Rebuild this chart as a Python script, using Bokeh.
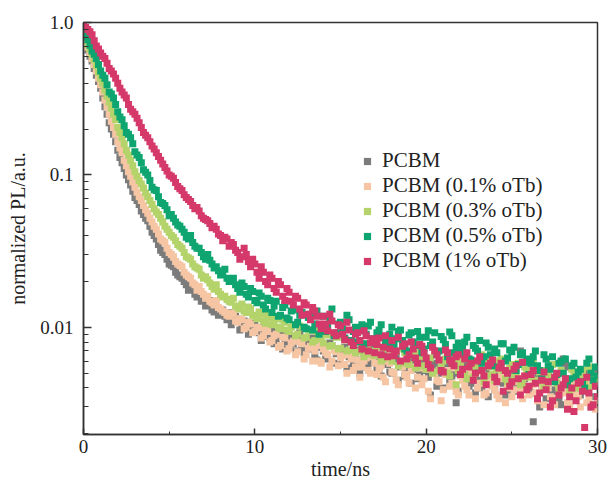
from bokeh.plotting import figure
from bokeh.models import FixedTicker
from bokeh.embed import file_html
from bokeh.resources import INLINE

# ---------------- data ----------------
# samples on the quarter-ns grid
time_ns = [
    0.0, 0.25, 0.5, 0.75, 1.0, 1.25, 1.5, 1.75, 2.0, 2.25, 2.5, 2.75,
    3.0, 3.25, 3.5, 3.75, 4.0, 4.25, 4.5, 4.75, 5.0, 5.25, 5.5, 5.75,
    6.0, 6.25, 6.5, 6.75, 7.0, 7.25, 7.5, 7.75, 8.0, 8.25, 8.5, 8.75,
    9.0, 9.25, 9.5, 9.75, 10.0, 10.25, 10.5, 10.75, 11.0, 11.25, 11.5, 11.75,
    12.0, 12.25, 12.5, 12.75, 13.0, 13.25, 13.5, 13.75, 14.0, 14.25, 14.5, 14.75,
    15.0, 15.25, 15.5, 15.75, 16.0, 16.25, 16.5, 16.75, 17.0, 17.25, 17.5, 17.75,
    18.0, 18.25, 18.5, 18.75, 19.0, 19.25, 19.5, 19.75, 20.0, 20.25, 20.5, 20.75,
    21.0, 21.25, 21.5, 21.75, 22.0, 22.25, 22.5, 22.75, 23.0, 23.25, 23.5, 23.75,
    24.0, 24.25, 24.5, 24.75, 25.0, 25.25, 25.5, 25.75, 26.0, 26.25, 26.5, 26.75,
    27.0, 27.25, 27.5, 27.75, 28.0, 28.25, 28.5, 28.75, 29.0, 29.25, 29.5, 29.75,
    30.0,
]
# samples in between (x.125, x.375, ...)
time_ns_mid = [
    0.125, 0.375, 0.625, 0.875, 1.125, 1.375, 1.625, 1.875,
    2.125, 2.375, 2.625, 2.875, 3.125, 3.375, 3.625, 3.875,
    4.125, 4.375, 4.625, 4.875, 5.125, 5.375, 5.625, 5.875,
    6.125, 6.375, 6.625, 6.875, 7.125, 7.375, 7.625, 7.875,
    8.125, 8.375, 8.625, 8.875, 9.125, 9.375, 9.625, 9.875,
    10.125, 10.375, 10.625, 10.875, 11.125, 11.375, 11.625, 11.875,
    12.125, 12.375, 12.625, 12.875, 13.125, 13.375, 13.625, 13.875,
    14.125, 14.375, 14.625, 14.875, 15.125, 15.375, 15.625, 15.875,
    16.125, 16.375, 16.625, 16.875, 17.125, 17.375, 17.625, 17.875,
    18.125, 18.375, 18.625, 18.875, 19.125, 19.375, 19.625, 19.875,
    20.125, 20.375, 20.625, 20.875, 21.125, 21.375, 21.625, 21.875,
    22.125, 22.375, 22.625, 22.875, 23.125, 23.375, 23.625, 23.875,
    24.125, 24.375, 24.625, 24.875, 25.125, 25.375, 25.625, 25.875,
    26.125, 26.375, 26.625, 26.875, 27.125, 27.375, 27.625, 27.875,
    28.125, 28.375, 28.625, 28.875, 29.125, 29.375, 29.625, 29.875,
]

pl_pcbm = [
    0.78, 0.66, 0.56, 0.45, 0.37, 0.28, 0.22, 0.185,
    0.145, 0.12, 0.10, 0.086, 0.071, 0.064, 0.055, 0.050,
    0.042, 0.038, 0.032, 0.030, 0.026, 0.025, 0.022, 0.021,
    0.019, 0.0185, 0.0165, 0.0170, 0.0150, 0.0142, 0.0130, 0.0136,
    0.0122, 0.0118, 0.0125, 0.0110, 0.0113, 0.0102, 0.0108, 0.0098,
    0.0104, 0.0092, 0.0100, 0.0087, 0.0096, 0.0084, 0.0093, 0.0080,
    0.0090, 0.0078, 0.0086, 0.0074, 0.0083, 0.0072, 0.0066, 0.0080,
    0.0070, 0.0062, 0.0076, 0.0067, 0.0060, 0.0074, 0.0064, 0.0057,
    0.0071, 0.0061, 0.0055, 0.0068, 0.0059, 0.0052, 0.0066, 0.0057,
    0.0050, 0.0064, 0.0055, 0.0048, 0.0062, 0.0053, 0.0046, 0.0060,
    0.0052, 0.0036, 0.0058, 0.0050, 0.0040, 0.0056, 0.0048, 0.0032,
    0.0054, 0.0046, 0.0041, 0.0052, 0.0045, 0.0040, 0.0051, 0.0044,
    0.0039, 0.0050, 0.0043, 0.0038, 0.0049, 0.0042, 0.0070, 0.0046,
    0.0040, 0.0024, 0.0048, 0.0041, 0.0034, 0.0046, 0.0039, 0.0033,
    0.0062, 0.0055, 0.0038, 0.0044, 0.0036, 0.0050, 0.0041, 0.0035,
    0.0043,
]
pl_pcbm_mid = [
    0.72, 0.60, 0.50, 0.41, 0.32, 0.25, 0.20, 0.165,
    0.13, 0.11, 0.093, 0.078, 0.068, 0.058, 0.052, 0.046,
    0.040, 0.035, 0.031, 0.028, 0.0255, 0.023, 0.0215, 0.020,
    0.0175, 0.0180, 0.0158, 0.0148, 0.0138, 0.0150, 0.0126, 0.0120,
    0.0130, 0.0112, 0.0104, 0.0118, 0.0096, 0.0110, 0.0090, 0.0106,
    0.0095, 0.0082, 0.0098, 0.0085, 0.0078, 0.0092, 0.0072, 0.0088,
    0.0082, 0.0070, 0.0092, 0.0068, 0.0078, 0.0085, 0.0061, 0.0074,
    0.0065, 0.0079, 0.0058, 0.0072, 0.0068, 0.0054, 0.0070, 0.0061,
    0.0050, 0.0066, 0.0058, 0.0071, 0.0054, 0.0048, 0.0062, 0.0051,
    0.0060, 0.0045, 0.0058, 0.0052, 0.0043, 0.0057, 0.0049, 0.0064,
    0.0047, 0.0055, 0.0041, 0.0053, 0.0061, 0.0044, 0.0050, 0.0038,
    0.0049, 0.0056, 0.0043, 0.0037, 0.0054, 0.0047, 0.0035, 0.0049,
    0.0044, 0.0057, 0.0036, 0.0047, 0.0052, 0.0038, 0.0045, 0.0058,
    0.0037, 0.0050, 0.0030, 0.0044, 0.0052, 0.0038, 0.0047, 0.0031,
    0.0058, 0.0041, 0.0035, 0.0049, 0.0039, 0.0046, 0.0030, 0.0053,
]

pl_otb_01 = [
    0.80, 0.69, 0.58, 0.48, 0.39, 0.31, 0.25, 0.205,
    0.165, 0.14, 0.115, 0.098, 0.083, 0.072, 0.063, 0.056,
    0.049, 0.044, 0.038, 0.036, 0.031, 0.029, 0.026, 0.025,
    0.022, 0.021, 0.019, 0.0185, 0.0165, 0.016, 0.0145, 0.0150,
    0.0132, 0.0125, 0.0118, 0.0122, 0.0108, 0.0112, 0.0100, 0.0105,
    0.0094, 0.0099, 0.0088, 0.0094, 0.0082, 0.0090, 0.0076, 0.0085,
    0.0072, 0.0081, 0.0069, 0.0078, 0.0066, 0.0075, 0.0070, 0.0060,
    0.0072, 0.0066, 0.0060, 0.0069, 0.0063, 0.0057, 0.0066, 0.0052,
    0.0061, 0.0055, 0.0063, 0.0050, 0.0058, 0.0053, 0.0047, 0.0060,
    0.0051, 0.0045, 0.0057, 0.0049, 0.0043, 0.0055, 0.0047, 0.0042,
    0.0053, 0.0034, 0.0050, 0.0044, 0.0039, 0.0052, 0.0043, 0.0038,
    0.0048, 0.0041, 0.0036, 0.0047, 0.0040, 0.0051, 0.0037, 0.0045,
    0.0039, 0.0034, 0.0046, 0.0040, 0.0035, 0.0044, 0.0038, 0.0048,
    0.0036, 0.0042, 0.0033, 0.0040, 0.0046, 0.0035, 0.0031, 0.0041,
    0.0037, 0.0032, 0.0043, 0.0036, 0.0030, 0.0039, 0.0034, 0.0042,
    0.0033,
]
pl_otb_01_mid = [
    0.75, 0.63, 0.53, 0.43, 0.35, 0.28, 0.225, 0.185,
    0.15, 0.125, 0.105, 0.090, 0.077, 0.068, 0.059, 0.052,
    0.046, 0.041, 0.037, 0.033, 0.030, 0.027, 0.0255, 0.023,
    0.0215, 0.0195, 0.0175, 0.0172, 0.0155, 0.0148, 0.0140, 0.0135,
    0.0128, 0.0120, 0.0124, 0.0110, 0.0114, 0.0098, 0.0108, 0.0092,
    0.0100, 0.0085, 0.0096, 0.0080, 0.0088, 0.0074, 0.0086, 0.0070,
    0.0079, 0.0066, 0.0080, 0.0062, 0.0073, 0.0060, 0.0076, 0.0058,
    0.0068, 0.0055, 0.0071, 0.0056, 0.0065, 0.0050, 0.0062, 0.0055,
    0.0047, 0.0060, 0.0052, 0.0064, 0.0049, 0.0056, 0.0044, 0.0058,
    0.0050, 0.0042, 0.0055, 0.0047, 0.0052, 0.0040, 0.0054, 0.0046,
    0.0038, 0.0051, 0.0045, 0.0033, 0.0049, 0.0041, 0.0054, 0.0036,
    0.0045, 0.0039, 0.0050, 0.0034, 0.0043, 0.0036, 0.0048, 0.0041,
    0.0036, 0.0049, 0.0032, 0.0043, 0.0039, 0.0046, 0.0034, 0.0041,
    0.0048, 0.0037, 0.0044, 0.0031, 0.0040, 0.0034, 0.0045, 0.0038,
    0.0041, 0.0031, 0.0046, 0.0035, 0.0040, 0.0032, 0.0044, 0.0029,
]

pl_otb_03 = [
    0.83, 0.72, 0.62, 0.52, 0.43, 0.36, 0.30, 0.25,
    0.205, 0.175, 0.145, 0.125, 0.105, 0.092, 0.082, 0.072,
    0.064, 0.057, 0.052, 0.046, 0.042, 0.039, 0.035, 0.033,
    0.029, 0.028, 0.025, 0.024, 0.021, 0.0205, 0.0185, 0.0190,
    0.0165, 0.0160, 0.0148, 0.0155, 0.0135, 0.0142, 0.0125, 0.0132,
    0.0118, 0.0126, 0.0110, 0.0120, 0.0104, 0.0114, 0.0098, 0.0108,
    0.0094, 0.0104, 0.0090, 0.0100, 0.0086, 0.0095, 0.0082, 0.0092,
    0.0079, 0.0089, 0.0076, 0.0086, 0.0073, 0.0083, 0.0071, 0.0080,
    0.0069, 0.0078, 0.0067, 0.0076, 0.0065, 0.0074, 0.0062, 0.0072,
    0.0060, 0.0070, 0.0058, 0.0068, 0.0057, 0.0066, 0.0055, 0.0064,
    0.0053, 0.0063, 0.0070, 0.0052, 0.0060, 0.0050, 0.0064, 0.0042,
    0.0058, 0.0049, 0.0062, 0.0047, 0.0056, 0.0066, 0.0048, 0.0055,
    0.0045, 0.0060, 0.0052, 0.0044, 0.0057, 0.0050, 0.0042, 0.0055,
    0.0047, 0.0058, 0.0044, 0.0052, 0.0041, 0.0054, 0.0046, 0.0039,
    0.0050, 0.0044, 0.0053, 0.0040, 0.0048, 0.0043, 0.0055, 0.0041,
    0.0047,
]
pl_otb_03_mid = [
    0.78, 0.67, 0.57, 0.47, 0.40, 0.33, 0.275, 0.23,
    0.19, 0.16, 0.135, 0.115, 0.098, 0.087, 0.076, 0.068,
    0.060, 0.055, 0.049, 0.044, 0.040, 0.037, 0.034, 0.031,
    0.0285, 0.026, 0.0245, 0.022, 0.0215, 0.0195, 0.0178, 0.0172,
    0.0158, 0.0152, 0.0146, 0.0138, 0.0132, 0.0128, 0.0136, 0.0120,
    0.0114, 0.0122, 0.0106, 0.0115, 0.0110, 0.0100, 0.0112, 0.0096,
    0.0100, 0.0088, 0.0102, 0.0085, 0.0096, 0.0080, 0.0094, 0.0084,
    0.0090, 0.0075, 0.0088, 0.0072, 0.0086, 0.0070, 0.0082, 0.0068,
    0.0080, 0.0064, 0.0077, 0.0066, 0.0075, 0.0060, 0.0073, 0.0064,
    0.0069, 0.0056, 0.0072, 0.0058, 0.0066, 0.0054, 0.0068, 0.0056,
    0.0061, 0.0050, 0.0066, 0.0055, 0.0062, 0.0048, 0.0059, 0.0052,
    0.0063, 0.0046, 0.0055, 0.0050, 0.0058, 0.0044, 0.0061, 0.0049,
    0.0053, 0.0062, 0.0046, 0.0054, 0.0047, 0.0058, 0.0043, 0.0052,
    0.0060, 0.0045, 0.0051, 0.0040, 0.0049, 0.0057, 0.0043, 0.0052,
    0.0046, 0.0038, 0.0051, 0.0045, 0.0052, 0.0040, 0.0049, 0.0044,
]

pl_otb_05 = [
    0.86, 0.77, 0.65, 0.58, 0.48, 0.43, 0.35, 0.32,
    0.26, 0.23, 0.19, 0.175, 0.142, 0.130, 0.108, 0.100,
    0.083, 0.079, 0.066, 0.063, 0.054, 0.052, 0.047, 0.044,
    0.039, 0.040, 0.034, 0.033, 0.029, 0.030, 0.026, 0.025,
    0.022, 0.024, 0.020, 0.021, 0.018, 0.0195, 0.0165, 0.018,
    0.0150, 0.0168, 0.0140, 0.0155, 0.0125, 0.0148, 0.0120, 0.0140,
    0.0112, 0.0130, 0.0108, 0.0125, 0.0098, 0.0122, 0.0105, 0.0090,
    0.0118, 0.0100, 0.0132, 0.0092, 0.0108, 0.0085, 0.0112, 0.0094,
    0.0080, 0.0104, 0.0090, 0.0108, 0.0078, 0.0096, 0.0087, 0.0075,
    0.0100, 0.0084, 0.0096, 0.0072, 0.0089, 0.0080, 0.0094, 0.0068,
    0.0086, 0.0076, 0.0092, 0.0070, 0.0083, 0.0064, 0.0088, 0.0074,
    0.0068, 0.0080, 0.0062, 0.0076, 0.0070, 0.0058, 0.0079, 0.0066,
    0.0072, 0.0055, 0.0078, 0.0063, 0.0069, 0.0052, 0.0066, 0.0059,
    0.0049, 0.0064, 0.0056, 0.0046, 0.0062, 0.0053, 0.0044, 0.0058,
    0.0050, 0.0042, 0.0056, 0.0047, 0.0053, 0.0040, 0.0062, 0.0045,
    0.0048,
]
pl_otb_05_mid = [
    0.81, 0.71, 0.62, 0.53, 0.45, 0.39, 0.34, 0.29,
    0.24, 0.21, 0.185, 0.16, 0.135, 0.12, 0.104, 0.092,
    0.080, 0.072, 0.065, 0.059, 0.055, 0.049, 0.046, 0.042,
    0.038, 0.036, 0.033, 0.031, 0.028, 0.0275, 0.0245, 0.0235,
    0.023, 0.021, 0.0205, 0.019, 0.017, 0.0185, 0.0158, 0.0172,
    0.0145, 0.0160, 0.0132, 0.0150, 0.0138, 0.0118, 0.0135, 0.0115,
    0.0128, 0.0104, 0.0120, 0.0100, 0.0116, 0.0096, 0.0128, 0.0102,
    0.0094, 0.0112, 0.0088, 0.0105, 0.0098, 0.0120, 0.0082, 0.0100,
    0.0095, 0.0078, 0.0102, 0.0084, 0.0092, 0.0104, 0.0080, 0.0090,
    0.0076, 0.0094, 0.0082, 0.0070, 0.0092, 0.0076, 0.0086, 0.0072,
    0.0095, 0.0080, 0.0066, 0.0087, 0.0077, 0.0093, 0.0068, 0.0079,
    0.0074, 0.0086, 0.0061, 0.0073, 0.0082, 0.0064, 0.0074, 0.0056,
    0.0068, 0.0078, 0.0060, 0.0071, 0.0074, 0.0057, 0.0068, 0.0062,
    0.0058, 0.0070, 0.0052, 0.0066, 0.0056, 0.0064, 0.0049, 0.0060,
    0.0062, 0.0046, 0.0058, 0.0051, 0.0044, 0.0058, 0.0050, 0.0055,
]

pl_otb_1 = [
    0.97, 0.90, 0.83, 0.70, 0.63, 0.58, 0.50, 0.46,
    0.40, 0.35, 0.32, 0.27, 0.25, 0.22, 0.19, 0.175,
    0.155, 0.14, 0.125, 0.112, 0.100, 0.095, 0.084, 0.079,
    0.071, 0.067, 0.060, 0.058, 0.052, 0.050, 0.045, 0.044,
    0.040, 0.039, 0.034, 0.035, 0.031, 0.029, 0.030, 0.025,
    0.026, 0.021, 0.023, 0.019, 0.021, 0.017, 0.019, 0.015,
    0.017, 0.014, 0.0155, 0.0120, 0.0140, 0.0112, 0.0128, 0.0105,
    0.0118, 0.0095, 0.0110, 0.0088, 0.0102, 0.0083, 0.0096, 0.0076,
    0.0092, 0.0072, 0.0088, 0.0079, 0.0068, 0.0085, 0.0074, 0.0064,
    0.0082, 0.0070, 0.0060, 0.0078, 0.0066, 0.0072, 0.0058, 0.0075,
    0.0063, 0.0054, 0.0070, 0.0061, 0.0051, 0.0068, 0.0058, 0.0064,
    0.0049, 0.0062, 0.0055, 0.0045, 0.0060, 0.0052, 0.0042, 0.0058,
    0.0047, 0.0054, 0.0038, 0.0050, 0.0044, 0.0056, 0.0036, 0.0048,
    0.0041, 0.0052, 0.0034, 0.0045, 0.0039, 0.0030, 0.0047, 0.0036,
    0.0042, 0.0029, 0.0040, 0.0033, 0.0044, 0.0022, 0.0037, 0.0031,
    0.0035,
]
pl_otb_1_mid = [
    0.93, 0.87, 0.76, 0.67, 0.60, 0.54, 0.48, 0.43,
    0.37, 0.335, 0.29, 0.26, 0.235, 0.205, 0.182, 0.165,
    0.148, 0.132, 0.118, 0.106, 0.098, 0.089, 0.081, 0.074,
    0.069, 0.063, 0.061, 0.054, 0.051, 0.048, 0.046, 0.041,
    0.037, 0.038, 0.036, 0.032, 0.028, 0.033, 0.027, 0.028,
    0.023, 0.025, 0.020, 0.022, 0.018, 0.020, 0.016, 0.018,
    0.0148, 0.0160, 0.0132, 0.0145, 0.0122, 0.0135, 0.0118, 0.0098,
    0.0105, 0.0122, 0.0092, 0.0104, 0.0090, 0.0108, 0.0080, 0.0090,
    0.0082, 0.0095, 0.0070, 0.0084, 0.0077, 0.0066, 0.0088, 0.0072,
    0.0065, 0.0086, 0.0075, 0.0062, 0.0080, 0.0063, 0.0077, 0.0068,
    0.0057, 0.0074, 0.0066, 0.0052, 0.0071, 0.0061, 0.0056, 0.0066,
    0.0053, 0.0068, 0.0058, 0.0050, 0.0064, 0.0048, 0.0056, 0.0061,
    0.0044, 0.0058, 0.0052, 0.0041, 0.0053, 0.0046, 0.0059, 0.0039,
    0.0049, 0.0043, 0.0037, 0.0051, 0.0044, 0.0033, 0.0050, 0.0040,
    0.0046, 0.0035, 0.0028, 0.0043, 0.0038, 0.0047, 0.0030, 0.0041,
]

series_names = ["PCBM", "PCBM (0.1% oTb)", "PCBM (0.3% oTb)",
                "PCBM (0.5% oTb)", "PCBM (1% oTb)"]
series_values = [pl_pcbm, pl_otb_01, pl_otb_03, pl_otb_05, pl_otb_1]
series_values_mid = [pl_pcbm_mid, pl_otb_01_mid, pl_otb_03_mid,
                     pl_otb_05_mid, pl_otb_1_mid]
series_colors = ["#7b7b7b", "#f6c6a4", "#b4d36b", "#0fa571", "#d5396a"]

x_ticks = [0, 10, 20, 30]
x_minor_ticks = [5, 15, 25]
y_ticks = [0.01, 0.1, 1.0]
y_tick_labels = ["0.01", "0.1", "1.0"]
y_minor_ticks = [0.002, 0.003, 0.004, 0.005, 0.006, 0.007, 0.008, 0.009,
                 0.02, 0.03, 0.04, 0.05, 0.06, 0.07, 0.08, 0.09,
                 0.2, 0.3, 0.4, 0.5, 0.6, 0.7, 0.8, 0.9]

x_title = "time/ns"
y_title = "normalized PL/a.u."

# ---------------- figure ----------------
FONT = "Liberation Serif"
p = figure(width=609, height=484, x_range=(0, 30), y_range=(0.00198, 1.0),
           y_axis_type="log", output_backend="svg", toolbar_location=None,
           min_border_left=83, min_border_right=12, min_border_top=22,
           min_border_bottom=50)

p.grid.visible = False
p.background_fill_color = "white"
p.border_fill_color = "white"
p.outline_line_color = "#333333"
p.outline_line_width = 1.5

for name, vals, vals_mid, col in zip(series_names, series_values,
                                     series_values_mid, series_colors):
    p.scatter(time_ns + time_ns_mid, vals + vals_mid, marker="square", size=7,
              fill_color=col, line_color=None, legend_label=name)

# axes
for ax in (p.xaxis[0], p.yaxis[0]):
    ax.axis_line_color = "#333333"
    ax.axis_line_width = 1.5
    ax.major_tick_line_color = "#333333"
    ax.minor_tick_line_color = "#333333"
    ax.major_tick_line_width = 1.5
    ax.minor_tick_line_width = 1
    ax.major_tick_out = 0
    ax.minor_tick_out = 0
    ax.major_label_text_font = FONT
    ax.major_label_text_font_size = "19px"
    ax.major_label_text_color = "#222222"
    ax.axis_label_text_font = FONT
    ax.axis_label_text_font_size = "20px"
    ax.axis_label_text_font_style = "normal"
    ax.axis_label_text_color = "#222222"

xa = p.xaxis[0]
xa.ticker = FixedTicker(ticks=x_ticks, minor_ticks=x_minor_ticks)
xa.major_tick_in = 6
xa.minor_tick_in = 3
xa.major_label_standoff = 5
xa.axis_label = x_title
xa.axis_label_standoff = 2

ya = p.yaxis[0]
ya.ticker = FixedTicker(ticks=y_ticks, minor_ticks=y_minor_ticks)
ya.major_label_overrides = {v: s for v, s in zip(y_ticks, y_tick_labels)}
ya.major_tick_in = 8
ya.minor_tick_in = 5
ya.major_label_standoff = 10
ya.axis_label = y_title
ya.axis_label_standoff = 8

leg = p.legend[0]
leg.location = (275, 161)
leg.padding = 0
leg.margin = 0
leg.spacing = -2
leg.glyph_width = 18
leg.glyph_height = 18
leg.label_standoff = 6
leg.label_text_font = FONT
leg.label_text_font_size = "21px"
leg.label_text_color = "#222222"
leg.border_line_alpha = 0
leg.background_fill_alpha = 0

open("out.html", "w").write(file_html(p, INLINE))
